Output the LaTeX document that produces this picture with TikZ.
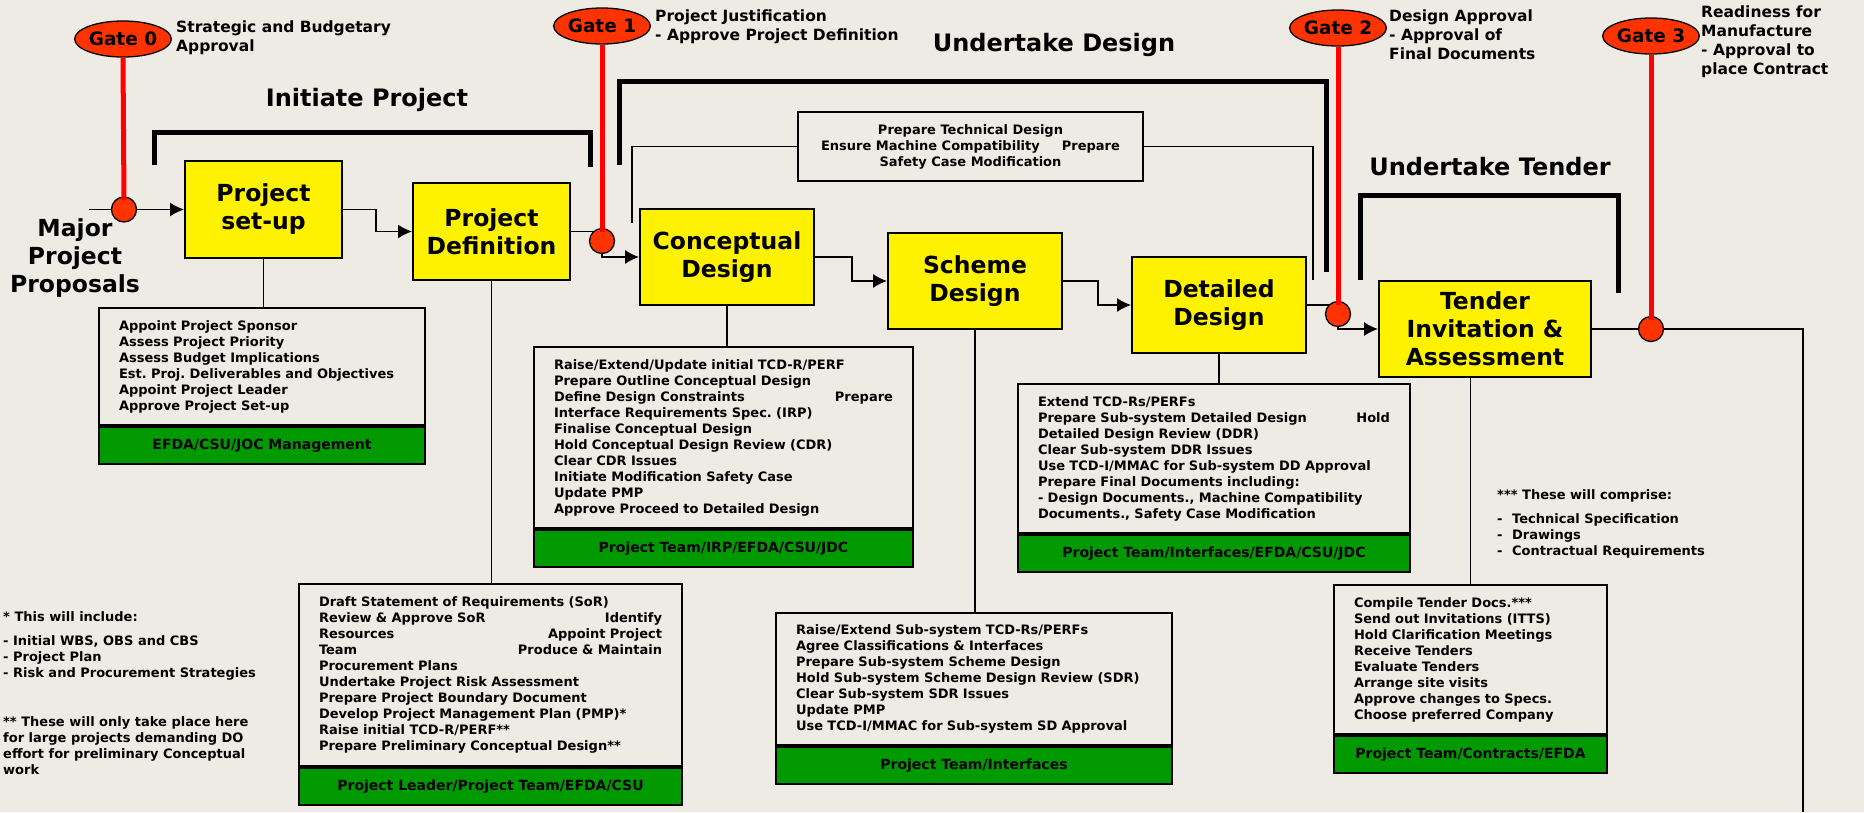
\documentclass[tikz,border=0pt]{standalone}
\usepackage{fontspec}
\setmainfont{DejaVu Sans}
\usepackage{tikz}
\usetikzlibrary{arrows.meta}
\usetikzlibrary{shapes.geometric}
\definecolor{paper}{RGB}{238,235,228}
\definecolor{gatered}{RGB}{255,51,0}
\definecolor{bandgreen}{RGB}{0,153,0}
\frenchspacing
\tikzset{>={Latex[length=14pt,width=14pt]}}
\tikzset{
  stage/.style = {draw, line width=2pt, fill=yellow, align=center, inner sep=0,
    font=\fontsize{23.5}{28}\selectfont\bfseries},
  tasks/.style = {draw, line width=2pt, fill=paper, anchor=north west, align=left,
    inner xsep=20pt, inner ysep=0, font=\fontsize{13}{16}\selectfont\bfseries},
  band/.style = {draw, line width=2pt, fill=bandgreen, anchor=north, minimum height=37pt,
    inner sep=0, font=\fontsize{14}{16}\selectfont\bfseries},
  gate/.style = {ellipse, draw, line width=1.3pt, fill=gatered, minimum width=87pt,
    minimum height=36pt, inner sep=0, font=\fontsize{18.5}{20}\selectfont\bfseries},
  gatedot/.style = {circle, draw, line width=1.3pt, fill=gatered, minimum size=25pt, inner sep=0},
  gateline/.style = {draw=red, line width=5pt},
  gatetext/.style = {anchor=north west, align=left, inner sep=0,
    font=\fontsize{15.5}{19}\selectfont\bfseries},
  phase/.style = {inner sep=0, font=\fontsize{24}{28}\selectfont\bfseries},
  bracket/.style = {line width=5pt},
  link/.style = {line width=1.5pt},
  note/.style = {anchor=north west, align=left, inner sep=0,
    font=\fontsize{13}{16}\selectfont\bfseries}
}

\begin{document}
\begin{tikzpicture}[x=1pt, y=-1pt]
\fill [paper] (0,0) rectangle (1864,812);
\useasboundingbox (0,0) rectangle (1864,812);

\node [stage, minimum width=157pt, minimum height=97pt] (setup) at (263.5,209.5) {Project\\set-up};
\node [stage, minimum width=157pt, minimum height=97pt] (projdef) at (491.5,231.5) {Project\\Definition};
\node [stage, minimum width=174pt, minimum height=96pt] (concept) at (727,257) {Conceptual\\Design};
\node [stage, minimum width=174pt, minimum height=96pt] (scheme) at (975,281) {Scheme\\Design};
\node [stage, minimum width=174pt, minimum height=96pt] (detailed) at (1219,305) {Detailed\\Design};
\node [stage, minimum width=212pt, minimum height=96pt] (tender) at (1485,329) {Tender\\Invitation \&\\Assessment};

\node [inner sep=0, align=center, font=\fontsize{23.5}{28}\selectfont\bfseries] (proposals) at (75,258) {Major\\Project\\Proposals};

\node [phase] (initiate) at (367,100) {Initiate Project};
\node [phase] (undesign) at (1054,45) {Undertake Design};
\node [phase] (untender) at (1490,167) {Undertake Tender};
\draw [bracket] (154,165) |- (590,132) -- (590,167);
\draw [bracket] (619,165) |- (1326,81) -- (1326,272);
\draw [bracket] (1360,280) |- (1618,195) -- (1618,293);

\node [draw, line width=1.5pt, fill=paper, minimum width=345pt, minimum height=69pt, align=center,
  inner sep=0, font=\fontsize{13}{16}\selectfont\bfseries] (techdesign) at (970.5,146.5)
  {Prepare Technical Design\\Ensure Machine Compatibility\hspace{22pt}Prepare\\Safety Case Modification};
\coordinate (techL) at (632,223);
\coordinate (techR) at (1313,280);
\draw [link] (techdesign.west) -| (techL);
\draw [link] (techdesign.east) -| (techR);

\node [tasks, text width=286pt, minimum height=117pt] (setupT) at (98,307)
  {Appoint Project Sponsor\\
   Assess Project Priority\\
   Assess Budget Implications\\
   Est. Proj. Deliverables and Objectives\\
   Appoint Project Leader\\
   Approve Project Set-up};
\node [band, minimum width=326pt] (setupB) at (setupT.south) {EFDA/CSU/JOC Management};

\node [tasks, text width=343pt, minimum height=182pt] (projdefT) at (298,583)
  {Draft Statement of Requirements (SoR)\\
   Review \& Approve SoR\hfill Identify\\
   Resources\hfill Appoint Project\\
   Team\hfill Produce \& Maintain\\
   Procurement Plans\\
   Undertake Project Risk Assessment\\
   Prepare Project Boundary Document\\
   Develop Project Management Plan (PMP)*\\
   Raise initial TCD-R/PERF**\\
   Prepare Preliminary Conceptual Design**};
\node [band, minimum width=383pt] (projdefB) at (projdefT.south) {Project Leader/Project Team/EFDA/CSU};

\node [tasks, text width=339pt, minimum height=181pt] (conceptT) at (533,346)
  {Raise/Extend/Update initial TCD-R/PERF\\
   Prepare Outline Conceptual Design\\
   Define Design Constraints\hfill Prepare\\
   Interface Requirements Spec. (IRP)\\
   Finalise Conceptual Design\\
   Hold Conceptual Design Review (CDR)\\
   Clear CDR Issues\\
   Initiate Modification Safety Case\\
   Update PMP\\
   Approve Proceed to Detailed Design};
\node [band, minimum width=379pt] (conceptB) at (conceptT.south) {Project Team/IRP/EFDA/CSU/JDC};

\node [tasks, text width=356pt, minimum height=132pt] (schemeT) at (775,612)
  {Raise/Extend Sub-system TCD-Rs/PERFs\\
   Agree Classifications \& Interfaces\\
   Prepare Sub-system Scheme Design\\
   Hold Sub-system Scheme Design Review (SDR)\\
   Clear Sub-system SDR Issues\\
   Update PMP\\
   Use TCD-I/MMAC for Sub-system SD Approval};
\node [band, minimum width=396pt] (schemeB) at (schemeT.south) {Project Team/Interfaces};

\node [tasks, text width=352pt, minimum height=149pt] (detailedT) at (1017,383)
  {Extend TCD-Rs/PERFs\\
   Prepare Sub-system Detailed Design\hfill Hold\\
   Detailed Design Review (DDR)\\
   Clear Sub-system DDR Issues\\
   Use TCD-I/MMAC for Sub-system DD Approval\\
   Prepare Final Documents including:\\
   - Design Documents., Machine Compatibility\\
   Documents., Safety Case Modification};
\node [band, minimum width=392pt] (detailedB) at (detailedT.south) {Project Team/Interfaces/EFDA/CSU/JDC};

\node [tasks, text width=233pt, minimum height=149pt] (tenderT) at (1333,584)
  {Compile Tender Docs.***\\
   Send out Invitations (ITTS)\\
   Hold Clarification Meetings\\
   Receive Tenders\\
   Evaluate Tenders\\
   Arrange site visits\\
   Approve changes to Specs.\\
   Choose preferred Company};
\node [band, minimum width=273pt] (tenderB) at (tenderT.south) {Project Team/Contracts/EFDA};

\draw [link] (setup.south) -- (setup.south |- setupT.north);
\draw [link] (projdef.south) -- (projdef.south |- projdefT.north);
\draw [link] (concept.south) -- (concept.south |- conceptT.north);
\draw [link] (scheme.south) -- (scheme.south |- schemeT.north);
\draw [link] (detailed.south) -- (detailed.south |- detailedT.north);
\draw [link] (tenderT.north) -- (tenderT.north |- tender.south);

\coordinate (inStart) at (89,209.5);
\coordinate (g0c) at (124,209.5);
\coordinate (g1c) at (602,241);
\coordinate (g2c) at (1338,314);
\coordinate (g3c) at (1651,329);
\coordinate (outEnd) at (1803,812);

\draw [link, ->] (inStart) -- (setup.west);
\draw [link, ->] (setup.east) -- ++(33,0) |- (projdef.west);
\draw [link, ->] (projdef.east) -| (g1c) |- (concept.west);
\draw [link, ->] (concept.east) -- ++(37,0) |- (scheme.west);
\draw [link, ->] (scheme.east) -- ++(35,0) |- (detailed.west);
\draw [link, ->] (detailed.east) -| (g2c) |- (tender.west);
\draw [link] (tender.east) -- (g3c) -| (outEnd);

\node [gate] (gate0) at (123,39) {Gate 0};
\node [gate] (gate1) at (602,26) {Gate 1};
\node [gate] (gate2) at (1338,28) {Gate 2};
\node [gate] (gate3) at (1651,36) {Gate 3};
\node [gatedot] (g0dot) at (g0c) {};
\node [gatedot] (g1dot) at (g1c) {};
\node [gatedot] (g2dot) at (g2c) {};
\node [gatedot] (g3dot) at (g3c) {};
\draw [gateline] (gate0.south) -- ([yshift=-4pt]g0dot.north);
\draw [gateline] (gate1.south) -- ([yshift=-4pt]g1dot.north);
\draw [gateline] (gate2.south) -- ([yshift=-4pt]g2dot.north);
\draw [gateline] (gate3.south) -- ([yshift=-4pt]g3dot.north);

\node [gatetext] (gate0T) at (176,21) {Strategic and Budgetary\\Approval};
\node [gatetext] (gate1T) at (655,10) {Project Justification\\- Approve Project Definition};
\node [gatetext] (gate2T) at (1389,10) {Design Approval\\- Approval of\\Final Documents};
\node [gatetext] (gate3T) at (1701,6) {Readiness for\\Manufacture\\- Approval to\\place Contract};

\node [note] (includeN) at (3,611) {* This will include:\\[8pt]- Initial WBS, OBS and CBS\\- Project Plan\\- Risk and Procurement Strategies};
\node [note] (largeN) at (3,716) {** These will only take place here\\for large projects demanding DO\\effort for preliminary Conceptual\\work};
\node [note] (comprizeN) at (1497,489) {*** These will comprise:\\[8pt]\makebox[15pt][l]{-}Technical Specification\\\makebox[15pt][l]{-}Drawings\\\makebox[15pt][l]{-}Contractual Requirements};
\end{tikzpicture}
\end{document}
